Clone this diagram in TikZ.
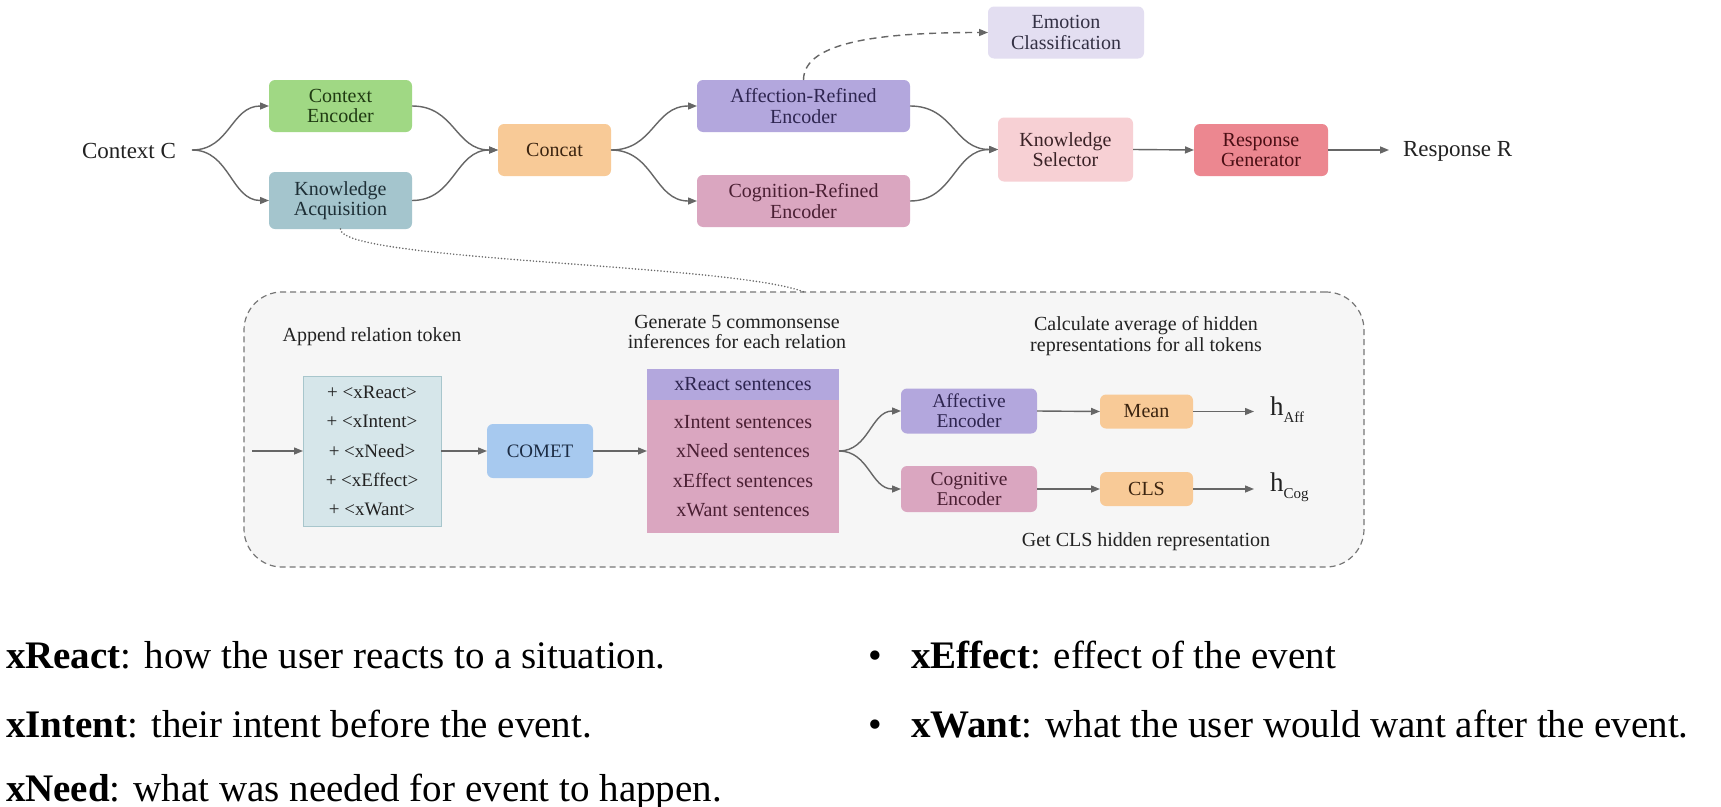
\documentclass[tikz,border=0pt]{standalone}
\usepackage{fontspec}
\setmainfont{Liberation Serif}
\usetikzlibrary{arrows.meta,calc}
\definecolor{arrowgray}{HTML}{666666}
\definecolor{cgreen}{HTML}{A0D884}
\definecolor{tgreen}{HTML}{1F3A12}
\definecolor{cka}{HTML}{A4C5CD}
\definecolor{tka}{HTML}{1E2F36}
\definecolor{corange}{HTML}{F8CA97}
\definecolor{torange}{HTML}{3B2410}
\definecolor{cpurple}{HTML}{B3A7DD}
\definecolor{tpurple}{HTML}{2E2550}
\definecolor{cmauve}{HTML}{DAA6C0}
\definecolor{tmauve}{HTML}{4A1F33}
\definecolor{cemo}{HTML}{E3DEF1}
\definecolor{temo}{HTML}{333044}
\definecolor{cks}{HTML}{F7D0D4}
\definecolor{tks}{HTML}{3A2226}
\definecolor{crg}{HTML}{EC8790}
\definecolor{trg}{HTML}{4A0E14}
\definecolor{ctok}{HTML}{D6E6EA}
\definecolor{btok}{HTML}{A8C6CC}
\definecolor{ccomet}{HTML}{A7C9EF}
\definecolor{tcomet}{HTML}{1C2C44}
\definecolor{cpanel}{HTML}{F6F6F6}
\definecolor{bpanel}{HTML}{777777}
\definecolor{tdark}{HTML}{222222}
\begin{document}
\begin{tikzpicture}[x=1pt,y=-1pt,
  every node/.style={inner sep=0pt, outer sep=0pt},
  lbl/.style={font=\fontsize{20}{20.5}\selectfont, align=center, text=tdark},
  box/.style={lbl, rounded corners=6pt},
  arr/.style={draw=arrowgray, line width=1.4pt, -{Triangle[length=9pt,width=7pt]}},
  dashedarr/.style={arr, dash pattern=on 7pt off 5pt},
  dotline/.style={draw=arrowgray, line width=1.7pt, line cap=round, dash pattern=on 0pt off 3.2pt},
  listtext/.style={anchor=base west, font=\fontsize{39}{40}\selectfont, text=black}
]
\fill[white] (0,0) rectangle (1721,806);
\useasboundingbox (0,0) rectangle (1721,806);

% ---------------- top pipeline ----------------
\node[lbl, font=\fontsize{23}{24}\selectfont] (ctx) at (129,151) {Context C};
\coordinate (ctxout) at (192,150);
\node[box, fill=cgreen, text=tgreen, minimum width=143pt, minimum height=52pt] (ce) at (340.5,106) {Context\\Encoder};
\node[box, fill=cka, text=tka, minimum width=143pt, minimum height=57pt] (ka) at (340.5,200.5) {Knowledge\\Acquisition};
\node[box, fill=corange, text=torange, minimum width=113pt, minimum height=52pt] (concat) at (554.5,150) {Concat};
\node[box, fill=cpurple, text=tpurple, minimum width=213pt, minimum height=52pt] (arf) at (803.5,106) {Affection-Refined\\Encoder};
\node[box, fill=cmauve, text=tmauve, minimum width=213pt, minimum height=52pt] (crf) at (803.5,201) {Cognition-Refined\\Encoder};
\node[box, fill=cemo, text=temo, minimum width=156pt, minimum height=52pt] (emo) at (1066,32.5) {Emotion\\Classification};
\node[box, fill=cks, text=tks, minimum width=135pt, minimum height=64pt] (ks) at (1065.5,149.5) {Knowledge\\Selector};
\node[box, fill=crg, text=trg, minimum width=134pt, minimum height=52pt] (rg) at (1261,150) {Response\\Generator};
\node[lbl, anchor=west, font=\fontsize{23}{24}\selectfont] (resp) at (1403,151) {Response R};
\coordinate (respin) at (1389,150);

\draw[arr] (ctxout) .. controls +(38,0) and +(-38,0) .. (ce.west);
\draw[arr] (ctxout) .. controls +(38,0) and +(-38,0) .. (ka.west);
\draw[arr] (ce.east) .. controls +(43,0) and +(-43,0) .. (concat.west);
\draw[arr] (ka.east) .. controls +(43,0) and +(-43,0) .. (concat.west);
\draw[arr] (concat.east) .. controls +(43,0) and +(-43,0) .. (arf.west);
\draw[arr] (concat.east) .. controls +(43,0) and +(-43,0) .. (crf.west);
\draw[arr] (arf.east) .. controls +(44,0) and +(-44,0) .. (ks.west);
\draw[arr] (crf.east) .. controls +(44,0) and +(-44,0) .. (ks.west);
\draw[arr] (ks.east) -- (rg.west);
\draw[arr] (rg.east) -- (respin);
\draw[dashedarr] (arf.north) .. controls +(0,-40) and +(-100,0) .. (emo.west);

% ---------------- knowledge acquisition panel ----------------
\node[draw=bpanel, fill=cpanel, line width=1.2pt, dash pattern=on 6pt off 4pt, rounded corners=38pt,
      minimum width=1120pt, minimum height=275pt] (kbox) at (804,429.5) {};
\draw[dotline] (ka.south) .. controls +(0,32) and +(-70,-28) .. (kbox.north);

\node[lbl] (appendtxt) at (372,337) {Append relation token};
\node[lbl] (gentxt) at (737,332) {Generate 5 commonsense\\inferences for each relation};
\node[lbl] (calctxt) at (1146,336) {Calculate average of hidden\\representations for all tokens};
\node[lbl] (clstxt) at (1146,542) {Get CLS hidden representation};

\coordinate (panelin) at (252,451);
\node[lbl, draw=btok, line width=1pt, fill=ctok, minimum width=138pt, minimum height=150pt,
      font=\fontsize{19}{29.3}\selectfont] (tok) at (372,451)
      {+ <xReact>\\+ <xIntent>\\+ <xNeed>\\+ <xEffect>\\+ <xWant>};
\node[box, fill=ccomet, text=tcomet, minimum width=106pt, minimum height=54pt, font=\fontsize{19}{20}\selectfont] (comet) at (540,451) {COMET};

\node[fill=cmauve, minimum width=192pt, minimum height=164pt] (sent) at (743,451) {};
\node[lbl, fill=cpurple, minimum width=192pt, minimum height=31pt, anchor=north, font=\fontsize{20}{20.5}\selectfont, text=tpurple] (band) at (sent.north) {xReact sentences};
\node[lbl, font=\fontsize{20}{29.5}\selectfont, text=tmauve] (sentlines) at (743,466)
      {xIntent sentences\\xNeed sentences\\xEffect sentences\\xWant sentences};

\node[box, fill=cpurple, text=tpurple, minimum width=136pt, minimum height=45pt, font=\fontsize{19.5}{20}\selectfont] (aff) at (969,411) {Affective\\Encoder};
\node[box, fill=cmauve, text=tmauve, minimum width=136pt, minimum height=46pt, font=\fontsize{19.5}{20}\selectfont] (cog) at (969,489) {Cognitive\\Encoder};
\node[box, fill=corange, text=torange, minimum width=93pt, minimum height=34pt] (mean) at (1146.5,411.5) {Mean};
\node[box, fill=corange, text=torange, minimum width=93pt, minimum height=34pt] (cls) at (1146.5,489) {CLS};
\coordinate (haffin) at (1254,411.5);
\coordinate (hcogin) at (1254,489);
\node[lbl, anchor=west, font=\fontsize{27}{28}\selectfont] (haff) at (1270,410) {h\raisebox{-7pt}{\fontsize{15}{15}\selectfont Aff}};
\node[lbl, anchor=west, font=\fontsize{27}{28}\selectfont] (hcog) at (1270,487.5) {h\raisebox{-7pt}{\fontsize{15}{15}\selectfont Cog}};

\draw[arr] (panelin) -- (tok.west);
\draw[arr] (tok.east) -- (comet.west);
\draw[arr] (comet.east) -- (sent.west);
\draw[arr] (sent.east) .. controls +(30,0) and +(-30,0) .. (aff.west);
\draw[arr] (sent.east) .. controls +(30,0) and +(-30,0) .. (cog.west);
\draw[arr] (aff.east) -- (mean.west);
\draw[arr] (cog.east) -- (cls.west);
\draw[arr] (mean.east) -- (haffin);
\draw[arr] (cls.east) -- (hcogin);

% ---------------- relation list ----------------
\node[listtext] (lreact) at (6,668) {\textbf{xReact}: how the user reacts to a situation.};
\node[listtext] (lintent) at (6,737) {\textbf{xIntent}: their intent before the event.};
\node[listtext] (lneed) at (6,801) {\textbf{xNeed}: what was needed for event to happen.};
\node[listtext] (leffect) at (868,668) {\makebox[43pt][l]{•}\textbf{xEffect}: effect of the event};
\node[listtext] (lwant) at (868,737) {\makebox[43pt][l]{•}\textbf{xWant}: what the user would want after the event.};
\end{tikzpicture}
\end{document}
